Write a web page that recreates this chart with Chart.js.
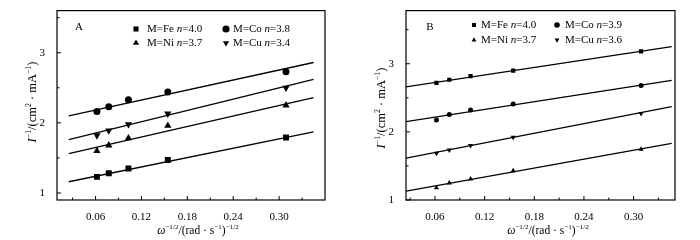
<!DOCTYPE html>
<html>
<head>
<meta charset="utf-8">
<script src="https://cdn.jsdelivr.net/npm/chart.js@4.4.1/dist/chart.umd.min.js"></script>
<style>
  body { margin: 0; background: #fff; }
  .wrap { display: flex; width: 700px; height: 240px; }
  .box { position: relative; width: 350px; height: 240px; }
</style>
</head>
<body>
<div class="wrap">
  <div class="box"><canvas id="chart-a"></canvas></div>
  <div class="box"><canvas id="chart-b"></canvas></div>
</div>
<script>
// x = omega^-1/2 for 2500, 1600, 900, 400, 100 rpm
const xVals = [0.0618, 0.0773, 0.103, 0.1545, 0.309];
const xTicks = [0.06, 0.12, 0.18, 0.24, 0.30];
const xMinor = [0.03, 0.09, 0.15, 0.21, 0.27, 0.33];
const yTicks = [1, 2, 3];
const yMinor = [1.5, 2.5, 3.5];
const metals = ['Fe', 'Co', 'Ni', 'Cu'];

// panel A
const feA = [1.23, 1.28, 1.35, 1.47, 1.79];
const coA = [2.16, 2.23, 2.33, 2.44, 2.73];
const niA = [1.60, 1.68, 1.78, 1.96, 2.25];
const cuA = [1.82, 1.89, 1.98, 2.13, 2.50];
const fitXA = [0.025, 0.345];
const feFitA = [1.16, 1.87];
const coFitA = [2.10, 2.86];
const niFitA = [1.56, 2.36];
const cuFitA = [1.76, 2.62];
const nA = ['4.0', '3.8', '3.7', '3.4'];

// panel B
const feB = [2.72, 2.765, 2.82, 2.90, 3.18];
const coB = [2.175, 2.255, 2.32, 2.41, 2.68];
const niB = [1.18, 1.25, 1.31, 1.43, 1.745];
const cuB = [1.685, 1.735, 1.80, 1.92, 2.27];
const fitXB = [0.025, 0.346];
const feFitB = [2.66, 3.25];
const coFitB = [2.15, 2.755];
const niFitB = [1.13, 1.83];
const cuFitB = [1.615, 2.37];
const nB = ['4.0', '3.9', '3.7', '3.6'];

Chart.defaults.font.family = "'Liberation Serif', 'Times New Roman', serif";
Chart.defaults.font.size = 11;
Chart.defaults.color = '#000';

const styles = {
  Fe: { pointStyle: 'rect', rotation: 0 },
  Co: { pointStyle: 'circle', rotation: 0 },
  Ni: { pointStyle: 'triangle', rotation: 0 },
  Cu: { pointStyle: 'triangle', rotation: 180 }
};

// text with italic / superscript pieces
function richText(ctx, parts, x, y, size) {
  const fam = Chart.defaults.font.family;
  const fontOf = s => (s.includes('i') ? 'italic ' : '') + (s.includes('sup') ? size * 0.62 : size) + 'px ' + fam;
  let total = 0;
  parts.forEach(p => { ctx.font = fontOf(p[1]); total += ctx.measureText(p[0]).width; });
  let cx = x - total / 2;
  ctx.textAlign = 'left';
  ctx.textBaseline = 'alphabetic';
  parts.forEach(p => {
    ctx.font = fontOf(p[1]);
    ctx.fillText(p[0], cx, p[1].includes('sup') ? y - size * 0.4 : y);
    cx += ctx.measureText(p[0]).width;
  });
}

const framePlugin = {
  id: 'frame',
  afterDraw(chart) {
    const ctx = chart.ctx;
    const a = chart.chartArea;
    const o = chart.options.plugins.frame;
    const xs = chart.scales.x, ys = chart.scales.y;
    ctx.save();
    ctx.strokeStyle = '#000';
    ctx.lineWidth = 1.2;
    ctx.strokeRect(a.left, a.top, a.right - a.left, a.bottom - a.top);
    // inward ticks
    ctx.lineWidth = 1;
    ctx.beginPath();
    xTicks.forEach(v => { const p = xs.getPixelForValue(v); ctx.moveTo(p, a.bottom); ctx.lineTo(p, a.bottom - 4); });
    xMinor.forEach(v => { if (v > xs.min && v < xs.max) { const p = xs.getPixelForValue(v); ctx.moveTo(p, a.bottom); ctx.lineTo(p, a.bottom - 2.5); } });
    yTicks.forEach(v => { const p = ys.getPixelForValue(v); ctx.moveTo(a.left, p); ctx.lineTo(a.left + 4, p); });
    yMinor.forEach(v => { if (v > ys.min && v < ys.max) { const p = ys.getPixelForValue(v); ctx.moveTo(a.left, p); ctx.lineTo(a.left + 2.5, p); } });
    ctx.stroke();

    ctx.fillStyle = '#000';
    // panel letter
    ctx.font = '11px ' + Chart.defaults.font.family;
    ctx.textAlign = 'center';
    ctx.textBaseline = 'middle';
    ctx.fillText(o.letter, o.letterX, 27);

    // legend
    o.legend.forEach((item, i) => {
      const st = styles[item.metal];
      Chart.helpers.drawPoint(ctx, { pointStyle: st.pointStyle, rotation: st.rotation, radius: o.legendR, borderWidth: 0 }, item.mx, item.y);
      ctx.fillStyle = '#000';
      const parts = [['M=' + item.metal + ' ', ''], ['n', 'i'], ['=' + item.n, '']];
      const fam = Chart.defaults.font.family;
      let cx = item.tx;
      ctx.textAlign = 'left';
      ctx.textBaseline = 'middle';
      parts.forEach(p => {
        ctx.font = (p[1] ? 'italic ' : '') + '11px ' + fam;
        ctx.fillText(p[0], cx, item.y + 0.5);
        cx += ctx.measureText(p[0]).width;
      });
    });

    // axis titles
    richText(ctx, [['ω', 'i'], ['−1/2', 'sup'], ['/(rad · s', ''], ['−1', 'sup'], [')', ''], ['−1/2', 'sup']], 198, 234, 11.5);
    ctx.save();
    ctx.translate(o.yTitleX, o.yTitleY);
    ctx.rotate(-Math.PI / 2);
    richText(ctx, [['I', 'i'], ['−1', 'sup'], ['/(cm', ''], ['2', 'sup'], [' · mA', ''], ['−1', 'sup'], [')', '']], 0, 0, 12.5);
    ctx.restore();
    ctx.restore();
  }
};

function makeChart(id, p) {
  const pts = { Fe: p.fe, Co: p.co, Ni: p.ni, Cu: p.cu };
  const fits = { Fe: p.feFit, Co: p.coFit, Ni: p.niFit, Cu: p.cuFit };
  const datasets = [];
  metals.forEach(m => {
    datasets.push({
      label: m + ' fit',
      data: p.fitX.map((x, i) => ({ x: x, y: fits[m][i] })),
      showLine: true,
      borderColor: '#000',
      borderWidth: 1.3,
      pointRadius: 0
    });
    datasets.push({
      label: 'M=' + m,
      data: xVals.map((x, i) => ({ x: x, y: pts[m][i] })),
      showLine: false,
      pointStyle: styles[m].pointStyle,
      rotation: styles[m].rotation,
      pointRadius: p.r[m],
      backgroundColor: '#000',
      borderColor: '#000',
      borderWidth: 0
    });
  });

  return new Chart(document.getElementById(id), {
    type: 'scatter',
    data: { datasets: datasets },
    plugins: [framePlugin],
    options: {
      responsive: false,
      animation: false,
      events: [],
      layout: { padding: { left: 0, right: 25, top: 10, bottom: 0 } },
      scales: {
        x: {
          type: 'linear',
          min: p.xMin, max: p.xMax,
          bounds: 'data',
          grid: { display: false },
          border: { display: false },
          afterBuildTicks: s => { s.ticks = xTicks.map(v => ({ value: v })); },
          afterFit: s => { s.height = 40; },
          ticks: { padding: 3, maxRotation: 0, autoSkip: false, callback: v => v.toFixed(2) }
        },
        y: {
          type: 'linear',
          min: p.yMin, max: p.yMax,
          bounds: 'data',
          grid: { display: false },
          border: { display: false },
          afterBuildTicks: s => { s.ticks = yTicks.map(v => ({ value: v })); },
          afterFit: s => { s.width = p.left; },
          ticks: { padding: 4, autoSkip: false, callback: v => String(v) }
        }
      },
      plugins: {
        legend: { display: false },
        tooltip: { enabled: false },
        frame: p.frame
      }
    }
  });
}

function legendItems(n, col1m, col1t, col2m, col2t, row1, row2) {
  return [
    { metal: 'Fe', n: n[0], mx: col1m, tx: col1t, y: row1 },
    { metal: 'Co', n: n[1], mx: col2m, tx: col2t, y: row1 },
    { metal: 'Ni', n: n[2], mx: col1m, tx: col1t, y: row2 },
    { metal: 'Cu', n: n[3], mx: col2m, tx: col2t, y: row2 }
  ];
}

const canvA = document.getElementById('chart-a');
canvA.width = 350; canvA.height = 240;
const canvB = document.getElementById('chart-b');
canvB.width = 350; canvB.height = 240;

makeChart('chart-a', {
  fe: feA, co: coA, ni: niA, cu: cuA,
  fitX: fitXA, feFit: feFitA, coFit: coFitA, niFit: niFitA, cuFit: cuFitA,
  xMin: 0.0096, xMax: 0.36, yMin: 0.9, yMax: 3.6, left: 57,
  r: { Fe: 4.2, Co: 3.5, Ni: 4.2, Cu: 4.2 },
  frame: {
    letter: 'A', letterX: 79, legendR: 3.6,
    yTitleX: 36, yTitleY: 102,
    legend: legendItems(nA, 136, 147, 226, 233, 29, 43)
  }
});

makeChart('chart-b', {
  fe: feB, co: coB, ni: niB, cu: cuB,
  fitX: fitXB, feFit: feFitB, coFit: coFitB, niFit: niFitB, cuFit: cuFitB,
  xMin: 0.025, xMax: 0.35, yMin: 1, yMax: 3.78, left: 56,
  r: { Fe: 3, Co: 2.5, Ni: 3, Cu: 3 },
  frame: {
    letter: 'B', letterX: 80, legendR: 2.8,
    yTitleX: 35, yTitleY: 108,
    legend: legendItems(nB, 124, 131, 207, 215, 25, 40)
  }
});
</script>
</body>
</html>
